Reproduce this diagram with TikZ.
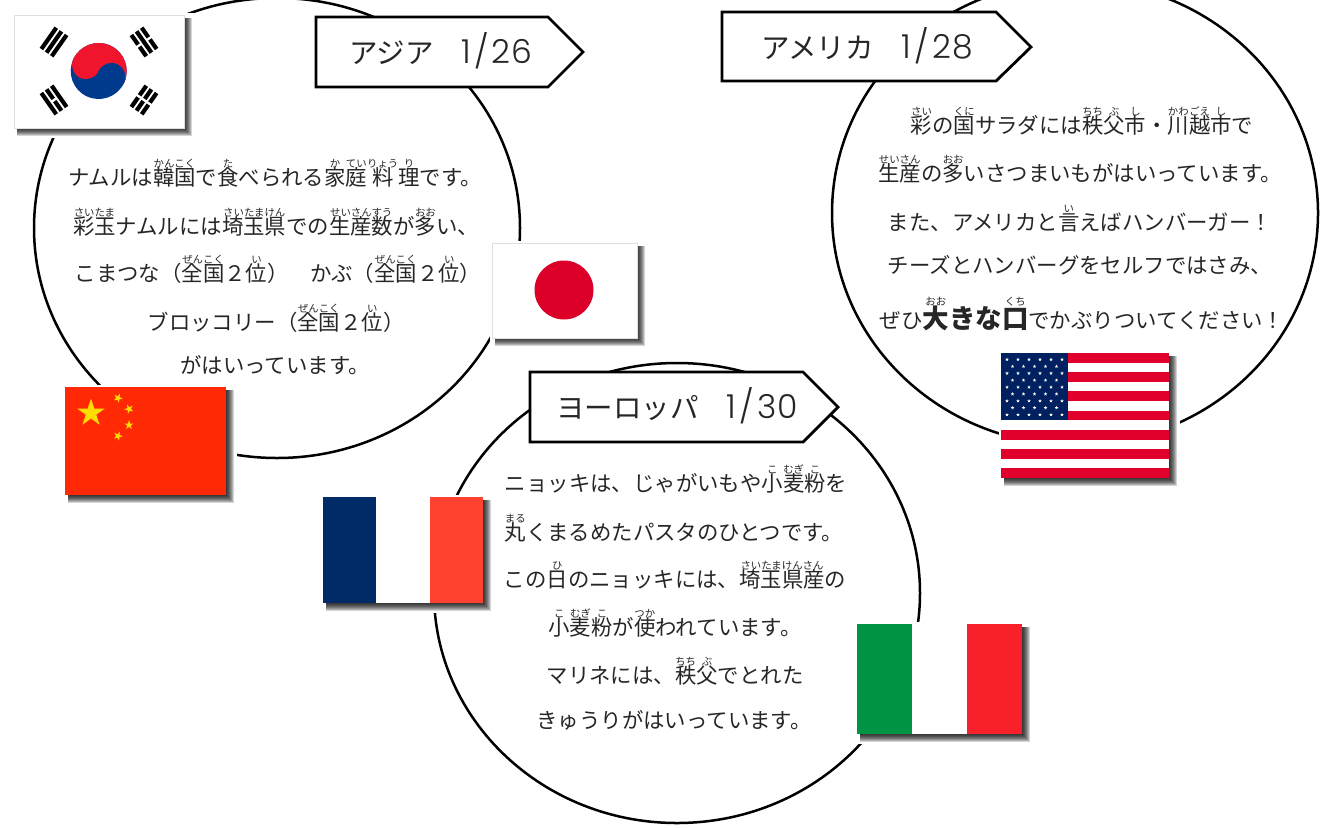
\documentclass[tikz,border=0pt]{standalone}
\usepackage{fontspec}
\setmainfont{Noto Sans CJK JP}
\newfontfamily\digitfont[UprightFont=* Light]{Poppins}
\newcommand\rbt[2]{\leavevmode\setbox0\hbox{#1}\hbox{\rlap{\raisebox{17.5pt}[0pt][0pt]{\makebox[\wd0]{\fontsize{10.4}{10.4}\selectfont #2}}}\box0}}
\newcommand\rbtb[2]{\leavevmode\setbox0\hbox{#1}\hbox{\rlap{\raisebox{22.5pt}[0pt][0pt]{\makebox[\wd0]{\fontsize{10.4}{10.4}\selectfont #2}}}\box0}}
\newcommand\bigb[1]{{\bfseries\fontsize{26.5}{26.5}\selectfont #1}}
\newcommand\tagnum[3]{\hspace{28pt}{\digitfont\fontsize{33}{33}\selectfont #1\hspace{3pt}/\hspace{3pt}#2\hspace{1pt}#3}}
\definecolor{krred}{HTML}{F0142D}
\definecolor{krblue}{HTML}{003A8C}
\definecolor{jpred}{HTML}{DC0028}
\definecolor{cnred}{HTML}{FF2A05}
\definecolor{cnyel}{HTML}{FFDD00}
\definecolor{frblue}{HTML}{002B66}
\definecolor{frred}{HTML}{FF4130}
\definecolor{itgreen}{HTML}{009343}
\definecolor{itred}{HTML}{F7202B}
\definecolor{usred}{HTML}{E0002B}
\definecolor{usblue}{HTML}{00205F}
\tikzset{
  bubble/.style={draw=black,line width=2.5pt,fill=white},
  tagbox/.style={draw=black,line width=2.8pt,fill=white,line join=miter},
  bodytxt/.style={anchor=base,inner sep=0pt,font=\fontsize{21.4}{21.4}\selectfont,text=black!85},
  tagtxt/.style={anchor=base,inner sep=0pt,font=\fontsize{28.5}{28.5}\selectfont,text=black!85},
  flagwhite/.style={fill=white,draw=black!12,line width=.7pt},
}
\newcommand\flagbase[4]{%
  \fill[white] (#1-2,#2-2) rectangle (#3+11,#4+10);
  \foreach \d in {1,...,8}{\fill[black,opacity=.17] (#1+3,#2+3) rectangle (#3+\d,#4+\d);}
}
\newcommand\fivestar[4]{\fill[shift={(#1,#2)},#4] (90:#3pt) -- (234:#3pt) -- (18:#3pt) -- (162:#3pt) -- (306:#3pt) -- cycle;}
\newcommand\trig[6]{\begin{scope}[shift={(#1,#2)},rotate=#3]
  \foreach \o/\b in {-6.3/#4,0/#5,6.3/#6}{%
    \fill[black] (-13,\o-2.1) rectangle (13,\o+2.1);
    \ifnum\b=1 \fill[white] (-1.2,\o-3.1) rectangle (1.2,\o+3.1);\fi
  }
\end{scope}}
\begin{document}
\begin{tikzpicture}[x=1pt,y=-1pt]
\useasboundingbox (0,0) rectangle (1321,827);
\fill[white] (0,0) rectangle (1321,827);
% bubbles
\begin{scope}
\clip (0,0) rectangle (1321,827);
\draw[bubble] (277,228) ellipse [x radius=243pt,y radius=230pt];
\draw[bubble] (1075,213) ellipse [x radius=243pt,y radius=232pt];
\draw[bubble] (677,593) ellipse [x radius=243pt,y radius=230pt];
\end{scope}
% tags
\draw[tagbox] (316,17) -- (548,17) -- (583,52) -- (548,87) -- (316,87) -- cycle;
\node[tagtxt] (tagasia) at (441,63) {アジア\tagnum{1}{2}{6}};
\draw[tagbox] (722,12) -- (996,12) -- (1031,47) -- (996,81) -- (722,81) -- cycle;
\node[tagtxt] (tagamerica) at (867,58) {アメリカ\tagnum{1}{2}{8}};
\draw[tagbox] (530,372) -- (803,372) -- (838,407) -- (803,442) -- (530,442) -- cycle;
\node[tagtxt] (tageurope) at (677,418) {ヨーロッパ\tagnum{1}{3}{0}};
% Korea
\flagbase{14}{15}{184}{128}
\path[flagwhite] (14,15) rectangle (184,128);
\begin{scope}[shift={(98.7,71)},rotate=-25]
  \fill[krblue] (0,0) circle[radius=28pt];
  \begin{scope}\clip (-30,-30) rectangle (30,0);\fill[krred] (0,0) circle[radius=28pt];\end{scope}
  \fill[krred] (-14,0) circle[radius=14pt];
  \fill[krblue] (14,0) circle[radius=14pt];
\end{scope}
\trig{54}{42}{55}{0}{0}{0}
\trig{144}{42}{-55}{1}{0}{1}
\trig{54}{100}{-55}{0}{1}{0}
\trig{144}{100}{55}{1}{1}{1}
% Japan
\flagbase{492}{243}{637}{338}
\path[flagwhite] (492,243) rectangle (637,338);
\fill[jpred] (564,290) circle[radius=29.5pt];
% China
\flagbase{65}{387}{226}{495}
\fill[cnred] (65,387) rectangle (226,495);
\fivestar{91}{413}{14.5}{cnyel}
\fivestar{118}{398}{4.8}{cnyel,rotate=47}
\fivestar{129}{409}{4.8}{cnyel,rotate=24}
\fivestar{129}{425}{4.8}{cnyel}
\fivestar{118}{436}{4.8}{cnyel,rotate=50}
% France
\flagbase{323}{497}{483}{603}
\fill[white] (323,497) rectangle (483,603);
\fill[frblue] (323,497) rectangle (376,603);
\fill[frred] (430,497) rectangle (483,603);
% Italy
\flagbase{857}{624}{1022}{734}
\fill[white] (857,624) rectangle (1022,734);
\fill[itgreen] (857,624) rectangle (911.5,734);
\fill[itred] (967,624) rectangle (1022,734);
% USA
\flagbase{1001}{353}{1169}{478}
\fill[white] (1001,353) rectangle (1169,478);
\foreach \i in {0,2,...,12}{\fill[usred] (1001,353+\i*9.615) rectangle (1169,353+\i*9.615+9.615);}
\fill[usblue] (1001,353) rectangle (1067.5,420);
\foreach \r in {0,2,4,6,8}{\foreach \c in {0,...,5}{\fivestar{1007+\c*11}{359.5+\r*6.9}{1.9}{white}}}
\foreach \r in {1,3,5,7}{\foreach \c in {0,...,4}{\fivestar{1012.5+\c*11}{359.5+\r*6.9}{1.9}{white}}}
% Asia text
\node[bodytxt] (a1) at (275,185) {ナムルは\rbt{韓国}{かんこく}で\rbt{食}{た}べられる\rbt{家}{か}\rbt{庭}{てい}\hspace{5pt}\rbt{料}{りょう}\hspace{5pt}\rbt{理}{り}です。};
\node[bodytxt] (a2) at (276,234) {\rbt{彩玉}{さいたま}ナムルには\rbt{埼玉県}{さいたまけん}での\rbt{生産数}{せいさんすう}が\rbt{多}{おお}い、};
\node[bodytxt] (a3) at (278,281) {こまつな（\rbt{全国}{ぜんこく}２\rbt{位}{い}）　かぶ（\rbt{全国}{ぜんこく}２\rbt{位}{い}）};
\node[bodytxt] (a4) at (276,330) {ブロッコリー（\rbt{全国}{ぜんこく}２\rbt{位}{い}）};
\node[bodytxt] (a5) at (275,373) {がはいっています。};
% America text
\node[bodytxt] (u1) at (1082,133) {\rbt{彩}{さい}の\rbt{国}{くに}サラダには\rbt{秩}{ちち}\rbt{父}{ぶ}\rbt{市}{し}・\rbt{川}{かわ}\rbt{越}{ごえ}\rbt{市}{し}で};
\node[bodytxt] (u2) at (1080,181) {\rbt{生産}{せいさん}の\rbt{多}{おお}いさつまいもがはいっています。};
\node[bodytxt] (u3) at (1080,230) {また、アメリカと\rbt{言}{い}えばハンバーガー！};
\node[bodytxt] (u4) at (1080,273) {チーズとハンバーグをセルフではさみ、};
\node[bodytxt] (u5) at (1082,328) {ぜひ\rbtb{\bigb{大}}{おお}\bigb{きな}\rbtb{\bigb{口}}{くち}でかぶりついてください！};
% Europe text
\node[bodytxt] (e1) at (676,491) {ニョッキは、じゃがいもや\rbt{小}{こ}\rbt{麦}{むぎ}\rbt{粉}{こ}を};
\node[bodytxt] (e2) at (674,540) {\rbt{丸}{まる}くまるめたパスタのひとつです。};
\node[bodytxt] (e3) at (675,587) {この\rbt{日}{ひ}のニョッキには、\rbt{埼玉県産}{さいたまけんさん}の};
\node[bodytxt] (e4) at (675,635) {\rbt{小}{こ}\rbt{麦}{むぎ}\rbt{粉}{こ}が\rbt{使}{つか}われています。};
\node[bodytxt] (e5) at (675,683) {マリネには、\rbt{秩}{ちち}\rbt{父}{ぶ}でとれた};
\node[bodytxt] (e6) at (674,728) {きゅうりがはいっています。};
\end{tikzpicture}
\end{document}
